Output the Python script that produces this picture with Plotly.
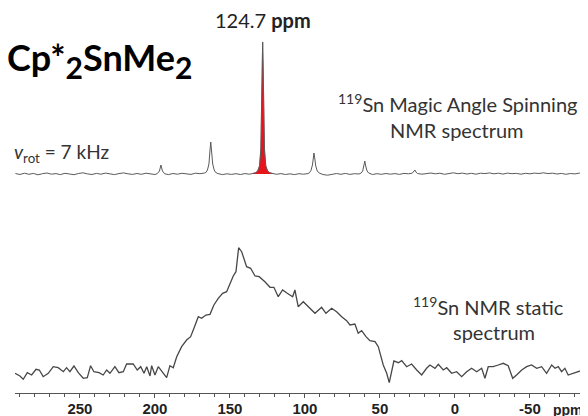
import plotly.graph_objects as go

# Static 119Sn spectrum (ppm, intensity)
static_ppm = [293.3, 290, 287.8, 285.1, 282.2, 279.3, 277.1, 274.5, 271.1, 267.8, 264.5, 261.1, 258.9, 256.7,
              254, 251.1, 247.8, 245.1, 242.9, 240.7, 237.3, 234.5, 232.2, 230, 226.7, 224, 221.1, 218.9, 214.5,
              211.8, 209.5, 207.3, 205.5, 203.3, 202.2, 200, 197.8, 194.5, 192.2, 190, 187.8, 185.5, 182.2, 178.9,
              176.2, 174, 171.1, 168.9, 166, 163.3, 160.7, 157.8, 154.9, 152.2, 150, 147.8, 146, 144.2, 142.2,
              138.9, 136.2, 133.3, 130.5, 126.7, 123.3, 120.7, 117.8, 114.9, 111.8, 108.2, 106.7, 104.5, 101.1,
              97.8, 93.3, 88.9, 86, 82.2, 78.9, 75.5, 72.2, 70, 66.7, 64.5, 62.2, 59.3, 56.7, 53.3, 51.1, 47.8,
              45.5, 43.8, 42.2, 40.7, 37.8, 35.5, 32.2, 28.9, 25.5, 22.2, 18.9, 16.7, 13.3, 11.1, 7.8, 5.5, 2.2,
              -1.1, -4.5, -7.8, -11.1, -14.5, -17.8, -20, -22.2, -25.5, -28.9, -32.2, -35.5, -38.5, -41.1, -44.5,
              -47.8, -51.1, -54.5, -57.8, -61.1, -64.5, -66.7, -68.9, -71.1, -73.3, -75.5, -78.9, -82.2, -85.5, -88.7]
static_int = [2.7, 0, -3.3, 3.3, 1, 6.7, 6, -0.7, 2.7, 9.3, 8.3, 4.3, 8.3, 4.3,
              10, 3.3, -2.3, -1.7, 10.3, 4.3, 3.3, 1, 6, 2.7, 9.3, 3.3, 4.3, 12, 12,
              6, 9.3, 2.7, 9.3, 0, 10.3, 1, 9.3, 2.7, -1.7, 10.3, 8.3, 19.3, 29.3, 36,
              39.3, 47.7, 59.3, 57.7, 61, 61.7, 71, 77.7, 82.7, 84.3, 92.7, 100, 104.3, 128.3, 124.3,
              109.3, 107.7, 100, 99.3, 94.3, 88.7, 88.7, 79.3, 86, 82.7, 79.3, 86, 69.3, 74.3,
              69.3, 62.7, 68.7, 62.7, 67.7, 64.3, 59.3, 55.3, 51, 52, 42.7, 45.3, 39.3, 35.3, 34.3, 29.3, 11,
              2.7, -6.7, 6, 15, 13.3, 15.3, 9.3, 12, 6, 1, 7.7, 11, 7.7, 11.7, 6, 8.3, 2.7,
              4.3, -0.7, 4.3, 7.7, 4.3, 7.7, -2.3, 9.3, 9.3, 11, 12.7, 10.3, -2.3, 1, 6,
              9.3, 11, 7.7, 9.3, 2.7, 11, 7.7, 9.3, 4.3, 7.7, 1, 2.7, 4.3, 6, 7.7]

# MAS 119Sn spectrum (ppm, intensity)
mas_ppm = [293, 290, 287, 284, 281, 278, 275, 272, 269, 266, 263, 260, 257, 254, 251, 248, 245, 242, 239, 236,
           233, 230, 227, 224, 221, 218, 215, 212, 209, 206, 203, 200,
           198.5, 197, 196, 195, 193.5,
           191, 188, 185, 182, 179, 176, 173, 170, 167,
           166, 165, 164, 163.4, 162.8, 162.2, 161.5, 160.5, 159.5, 158,
           155, 152, 149, 146, 143, 140, 137,
           135, 133, 131.5, 130.3, 129.4, 128.9, 128.5, 128.2, 127.9, 127.5, 127.0, 126.1, 124.9, 123.4, 121.5,
           119, 116, 113, 110, 107, 104, 101, 98,
           97, 96, 95, 94.5, 94, 93.4, 92.8, 91.8, 90.5,
           88, 85, 82, 79, 76, 73, 70, 67, 64,
           62.5, 61.5, 60.7, 60.1, 59.5, 58.6, 57.5,
           55, 52, 49, 46, 43, 40, 37, 34, 31,
           28.5, 27.3, 26.7, 26, 25,
           22, 19, 16, 13, 10, 7, 4, 1, -2, -5, -8, -11, -14, -17, -20, -23, -26, -29, -32, -35, -38, -41,
           -44, -47, -50, -53, -56, -59, -62, -65, -68, -71, -74, -77, -80, -83, -86, -88.7]
mas_int = [0.5, -0.5, 0.8, -0.3, 0.6, -0.8, 0.3, 1.0, -0.2, 0.4, -0.6, 0.7, 0.0, -0.7, 0.5, 1.2, 0.1, -0.5, 0.6, -0.2,
           0.9, 0.0, -0.6, 0.4, 1.1, 0.2, -0.4, 0.5, -0.3, 0.8, 0.2, -0.5,
           0.3, 3, 9, 3, 0.2,
           -0.6, 0.5, -0.2, 0.7, 0.2, -0.4, 0.8, 0.3, 1.0,
           1.5, 4, 10, 22, 32, 22, 10, 4, 1.5, 0.4,
           -0.6, 0.2, -0.4, 0.3, -0.5, 0.4, -0.2,
           0.5, 1.2, 3, 8, 25, 66, 110, 132, 110, 66, 25, 8, 3, 1.2, 0.5,
           -0.3, 0.4, -0.5, 0.2, -0.6, 0.3, -0.2, 0.4,
           1.2, 3.5, 9, 15, 21, 15, 8, 3, 1,
           -0.5, -1.2, -0.4, 0.5, -0.3, 0.6, -0.4, 0.3, 0.0,
           1, 3, 8, 13, 8, 3, 1,
           -0.5, 0.3, -0.3, 0.5, -0.2, 0.4, -0.4, 0.6, 0.2,
           0.8, 2.5, 4, 2, 0.5,
           -0.2, 0.5, 1.0, 0.2, 0.8, -0.3, 0.5, 1.2, 0.3, 0.9, 0.0, 0.7, -0.2, 0.8, 0.4, 1.1, 0.2, 0.8, -0.1, 0.9, 0.3, 0.6,
           -0.2, 0.7, 0.2, 0.9, 0.5, 1.2, 0.4, 0.8, 0.0, 0.6, -0.3, 0.5, 0.1, 0.9, 0.3, 0.6]

# Main isotropic peak (highlighted in red)
iso_ppm = [135, 133, 131.5, 130.3, 129.4, 128.9, 128.5, 128.2, 127.9, 127.5, 127.0, 126.1, 124.9, 123.4, 121.5]
iso_int = [0.5, 1.2, 3, 8, 25, 66, 110, 132, 110, 66, 25, 8, 3, 1.2, 0.5]

tick_vals = [250, 200, 150, 100, 50, 0, -50]
tick_text = ["250", "200", "150", "100", "50", "0", "-50"]

FONT = "Lato, 'Open Sans', sans-serif"
AXFONT = "Liberation Sans, Arial, sans-serif"

# page body has an 8px margin, so the figure is a little smaller than the window
W, H = 580, 408
ML, MB = 7, 23
PW, PH = W - ML, H - MB
OFF = 8

fig = go.Figure()
fig.add_trace(go.Scatter(x=static_ppm, y=static_int, mode="lines",
                         line=dict(color="#474747", width=1.3), yaxis="y", hoverinfo="skip"))
fig.add_trace(go.Scatter(x=iso_ppm, y=iso_int, mode="lines", fill="tozeroy",
                         fillcolor="#e8141c", line=dict(color="#e8141c", width=0.5),
                         yaxis="y2", hoverinfo="skip"))
fig.add_trace(go.Scatter(x=mas_ppm, y=mas_int, mode="lines",
                         line=dict(color="#5a5a5a", width=1.0), yaxis="y2", hoverinfo="skip"))

fig.update_layout(
    width=W, height=H,
    margin=dict(l=ML, r=0, t=0, b=MB, autoexpand=False),
    paper_bgcolor="white", plot_bgcolor="white",
    showlegend=False,
    font=dict(family=FONT, color="#222"),
    xaxis=dict(range=[293.3, -88.7], showgrid=False, zeroline=False, automargin=False,
               showline=True, linecolor="#555", linewidth=1.2,
               ticks="outside", ticklen=4, tickcolor="#555", tickwidth=1,
               tickvals=tick_vals, ticktext=["<b>%s</b>" % t for t in tick_text],
               tickfont=dict(family=AXFONT, size=15, color="#222"),
               ticklabelstandoff=-2,
               minor=dict(dtick=10, ticks="outside", ticklen=3, tickcolor="#555")),
    yaxis=dict(range=[-17, 368], visible=False, showgrid=False, zeroline=False, automargin=False),
    yaxis2=dict(range=[-219, 166], visible=False, showgrid=False, zeroline=False,
                overlaying="y", automargin=False),
)

ann = [
    dict(text="<b>Cp*<sub><span style='font-size:30px'>2</span></sub>SnMe<sub><span style='font-size:30px'>2</span></sub></b>",
         x=5, y=60, font=dict(size=36, color="#000")),
    dict(text="124.7 <b>ppm</b>", x=263, y=20, font=dict(size=20, color="#222"), xanchor="center"),
    dict(text="<sup>119</sup>Sn Magic Angle Spinning", x=457, y=103, font=dict(size=20, color="#333"), xanchor="center"),
    dict(text="NMR spectrum", x=457, y=130, font=dict(size=20, color="#333"), xanchor="center"),
    dict(text="<i>v</i><sub>rot</sub> = 7 kHz", x=12, y=153, font=dict(size=19, color="#333")),
    dict(text="<sup>119</sup>Sn NMR static", x=488, y=306, font=dict(size=20, color="#333"), xanchor="center"),
    dict(text="spectrum", x=494, y=332, font=dict(size=20, color="#333"), xanchor="center"),
    dict(text="<b>ppm</b>", x=551, y=410, font=dict(family=AXFONT, size=14, color="#222"), xanchor="left"),
]
for a in ann:
    xa = a.pop("xanchor", "left")
    fig.add_annotation(xref="paper", yref="paper",
                       x=(a["x"] - OFF - ML) / PW,
                       y=(PH - (a["y"] - OFF)) / PH,
                       text=a["text"], font=a["font"], showarrow=False,
                       xanchor=xa, yanchor="middle")

fig.write_html("out.html")
